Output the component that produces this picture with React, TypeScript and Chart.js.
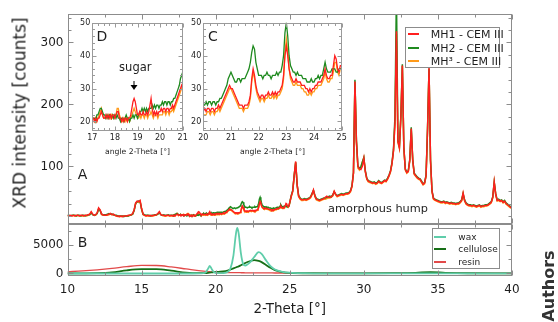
import React, { useEffect, useRef } from "react";
import { Chart, registerables } from "chart.js";

Chart.register(...registerables);

const FONT = "'DejaVu Sans', Verdana, sans-serif";
const TEXT = "#1e1e1e";
const FRAME = "#8c8c8c";

const C_MH1 = "#ff1f1f";
const C_MH2 = "#1f8a1f";
const C_MH3 = "#ff9a1a";
const C_WAX = "#5fcdaa";
const C_CELL = "#176f17";
const C_RESIN = "#e24a4a";

const NAMES_A = ["MH1 - CEM III", "MH2 - CEM III", "MH\u00b3 - CEM III"];
const NAMES_B = ["wax", "cellulose", "resin"];

// tick labels
const TICKS_X = [10, 15, 20, 25, 30, 35, 40];
const TICKS_A = [100, 200, 300];
const TICKS_B = [0, 5000];
const TICKS_INSET_Y = [20, 30, 40, 50];
const TICKS_D_X = [17, 18, 19, 20, 21];
const TICKS_C_X = [20, 21, 22, 23, 24, 25];

// ---- Panel A: XRD patterns ----
// segment 1: 2-Theta 10.0 ... 17.0, step 0.1
const SEG1_START = 10.0;
const SEG1_STEP = 0.1;
const MH1_SEG1 = [
  21, 20, 21, 20, 21, 20, 21, 21, 20, 21,
  21, 20, 21, 21, 22, 23, 27, 23, 21, 22,
  25, 33, 30, 23, 22, 21, 21, 22, 23, 24,
  22, 23, 21, 20, 20, 19, 20, 19, 20, 20,
  20, 21, 21, 22, 24, 30, 41, 44, 43, 45,
  32, 23, 21, 20, 21, 20, 21, 20, 21, 21,
  22, 24, 27, 22, 21, 21, 20, 21, 21, 20,
  21,
];
const MH2_SEG1 = [
  21, 21, 20, 21, 21, 21, 20, 21, 21, 20,
  21, 21, 20, 21, 22, 22, 25, 22, 21, 22,
  24, 31, 29, 23, 22, 22, 22, 23, 24, 23,
  23, 22, 21, 21, 20, 20, 20, 20, 19, 20,
  20, 20, 21, 22, 23, 29, 40, 43, 44, 43,
  31, 23, 22, 21, 21, 21, 20, 21, 21, 22,
  22, 23, 25, 22, 21, 22, 21, 21, 22, 21,
  21,
];
const MH3_SEG1 = [
  20, 20, 20, 20, 21, 20, 20, 21, 20, 20,
  20, 20, 21, 20, 21, 22, 26, 22, 21, 21,
  24, 32, 29, 22, 21, 21, 21, 21, 22, 23,
  22, 22, 21, 20, 19, 19, 19, 19, 20, 20,
  20, 20, 21, 21, 23, 29, 40, 43, 42, 44,
  31, 22, 21, 20, 20, 20, 20, 20, 20, 21,
  21, 23, 26, 22, 21, 20, 20, 20, 21, 20,
  20,
];

// segment 2: 2-Theta 17.05 ... 25.00, step 0.05 (detail shown in insets D and C)
const SEG2_START = 17.05;
const SEG2_STEP = 0.05;
const MH1_SEG2 = [
  21, 20, 21, 20, 21, 21, 22, 23, 22, 21,
  21, 22, 21, 22, 21, 22, 21, 22, 22, 21,
  22, 23, 23, 21, 21, 20, 21, 20, 21, 21,
  20, 21, 21, 22, 24, 26, 27, 26, 24, 22,
  22, 23, 22, 22, 23, 22, 22, 23, 22, 23,
  25, 27, 24, 22, 23, 22, 23, 22, 23, 23,
  24, 23, 24, 24, 23, 24, 24, 23, 24, 24,
  25, 24, 25, 26, 27, 28, 29, 30, 31, 30,
  30, 29, 28, 27, 26, 25, 25, 25, 24, 25,
  25, 25, 26, 28, 33, 36, 34, 31, 29, 28,
  27, 28, 28, 27, 28, 28, 29, 28, 28, 29,
  28, 29, 28, 29, 29, 30, 31, 34, 40, 43,
  40, 36, 34, 33, 32, 32, 33, 32, 32, 32,
  31, 31, 31, 30, 30, 29, 30, 29, 30, 30,
  31, 31, 32, 32, 32, 33, 34, 36, 34, 33,
  33, 34, 34, 37, 40, 39, 36, 35, 37, 37,
];
const MH2_SEG2 = [
  21, 21, 20, 22, 22, 23, 24, 24, 23, 22,
  22, 21, 22, 21, 22, 22, 21, 22, 21, 22,
  21, 22, 21, 21, 20, 21, 21, 20, 21, 22,
  21, 21, 20, 21, 21, 22, 21, 22, 22, 21,
  22, 23, 23, 24, 23, 24, 23, 24, 23, 24,
  24, 24, 25, 24, 25, 24, 25, 25, 24, 25,
  25, 26, 25, 26, 26, 25, 26, 26, 25, 26,
  26, 27, 27, 28, 29, 30, 31, 33, 34, 35,
  34, 33, 32, 32, 33, 33, 32, 33, 33, 33,
  34, 35, 36, 38, 41, 43, 42, 38, 36, 34,
  34, 34, 33, 34, 34, 35, 34, 34, 33, 34,
  34, 34, 35, 34, 35, 35, 37, 40, 47, 50,
  46, 40, 37, 36, 35, 35, 34, 35, 34, 34,
  34, 33, 33, 33, 32, 32, 32, 33, 32, 32,
  33, 33, 34, 33, 34, 34, 36, 38, 36, 35,
  35, 35, 36, 36, 36, 35, 35, 36, 36, 36,
];
const MH3_SEG2 = [
  20, 20, 21, 20, 21, 22, 23, 24, 22, 21,
  21, 21, 22, 21, 22, 21, 22, 21, 21, 22,
  22, 24, 24, 22, 21, 20, 20, 21, 20, 21,
  20, 21, 20, 21, 22, 23, 24, 23, 22, 21,
  21, 22, 21, 22, 22, 21, 22, 22, 21, 22,
  22, 23, 22, 21, 22, 22, 22, 21, 22, 22,
  22, 22, 23, 23, 22, 23, 23, 22, 23, 23,
  24, 23, 24, 25, 26, 27, 28, 29, 30, 30,
  29, 28, 27, 26, 25, 24, 24, 24, 23, 24,
  24, 24, 25, 27, 32, 35, 33, 30, 28, 27,
  26, 27, 27, 26, 27, 27, 28, 27, 27, 28,
  27, 28, 27, 28, 28, 29, 30, 33, 41, 45,
  41, 36, 33, 32, 31, 31, 32, 31, 31, 31,
  30, 30, 29, 29, 28, 28, 29, 28, 29, 29,
  30, 30, 31, 31, 31, 32, 33, 35, 33, 32,
  32, 33, 33, 35, 38, 38, 35, 34, 36, 36,
];

// segment 3: 2-Theta 25.1 ... 40.0, step 0.1
const SEG3_START = 25.1;
const SEG3_STEP = 0.1;
const MH1_SEG3 = [
  52, 60, 85, 108, 70, 52, 48, 46, 46, 47,
  46, 47, 48, 50, 55, 62, 52, 47, 46, 45,
  46, 47, 48, 50, 52, 50, 50, 51, 53, 60,
  55, 52, 53, 54, 55, 54, 55, 56, 56, 57,
  60, 68, 90, 237, 140, 100, 96, 95, 100, 113,
  92, 80, 76, 75, 74, 73, 74, 72, 73, 76,
  74, 73, 75, 77, 76, 80, 85, 92, 105, 125,
  170, 318, 140, 130, 180, 263, 130, 95, 90, 92,
  110, 161, 110, 88, 85, 82, 80, 79, 75, 71,
  73, 85, 160, 259, 110, 60, 48, 46, 45, 44,
  43, 42, 42, 43, 41, 42, 41, 40, 41, 40,
  40, 39, 40, 40, 42, 45, 57, 45, 40, 38,
  37, 37, 36, 37, 36, 35, 36, 37, 35, 36,
  36, 37, 37, 38, 40, 42, 50, 75, 55, 45,
  46, 44, 45, 42, 44, 40, 38, 36, 34, 33,
];
const MH2_SEG3 = [
  53, 61, 86, 106, 70, 53, 49, 47, 47, 48,
  47, 48, 49, 51, 56, 61, 53, 48, 47, 46,
  47, 48, 49, 49, 50, 51, 52, 51, 54, 59,
  55, 53, 54, 55, 56, 55, 56, 57, 57, 58,
  61, 69, 90, 240, 142, 101, 97, 99, 107, 114,
  93, 81, 77, 76, 75, 74, 75, 73, 74, 77,
  75, 74, 76, 78, 77, 81, 86, 93, 106, 127,
  180, 380, 142, 132, 182, 265, 131, 96, 91, 93,
  111, 163, 111, 89, 86, 83, 81, 80, 76, 72,
  74, 86, 161, 258, 111, 61, 49, 47, 46, 45,
  44, 43, 43, 44, 42, 43, 42, 41, 42, 41,
  41, 40, 41, 41, 43, 46, 56, 46, 41, 39,
  38, 38, 37, 38, 37, 36, 37, 38, 36, 37,
  37, 38, 38, 39, 41, 43, 51, 74, 56, 46,
  47, 45, 46, 43, 45, 41, 39, 37, 35, 34,
];
const MH3_SEG3 = [
  51, 59, 84, 107, 69, 51, 47, 45, 45, 46,
  45, 46, 47, 49, 54, 61, 51, 46, 45, 44,
  45, 46, 47, 47, 48, 49, 49, 50, 52, 59,
  54, 51, 52, 53, 54, 53, 54, 55, 55, 56,
  59, 67, 89, 236, 139, 97, 94, 99, 107, 114,
  91, 79, 75, 74, 73, 72, 73, 71, 72, 75,
  73, 72, 74, 76, 75, 79, 84, 91, 104, 124,
  169, 314, 139, 129, 179, 262, 129, 94, 89, 91,
  109, 160, 109, 87, 84, 81, 79, 78, 74, 70,
  72, 84, 159, 257, 109, 59, 47, 45, 44, 43,
  42, 41, 41, 42, 40, 41, 40, 39, 40, 39,
  39, 38, 39, 39, 41, 44, 56, 44, 39, 37,
  36, 36, 35, 36, 35, 34, 35, 36, 34, 35,
  35, 36, 36, 37, 39, 41, 49, 74, 54, 44,
  45, 43, 44, 41, 43, 39, 37, 35, 33, 32,
];

// ---- Panel B: reference components ----
const B_THETA = [
  10, 11, 12, 13, 14, 15, 16, 17, 18, 19,
  19.3, 19.5, 19.6, 19.75, 19.9, 20.2, 20.5, 20.8, 21, 21.2,
  21.35, 21.45, 21.55, 21.7, 21.85, 22, 22.3, 22.6, 22.9, 23.1,
  23.4, 23.7, 24, 24.5, 25, 26, 28, 30, 32, 33.5,
  34.5, 35.5, 37, 40,
];
const WAX = [
  0, 0, 0, 0, 0, 0, 0, 0, 0, 30,
  150, 900, 1350, 700, 200, 60, 80, 250, 900, 3200,
  6600, 8000, 7100, 3600, 1700, 1400, 1900, 2900, 3750, 3450,
  2300, 1300, 700, 300, 150, 60, 20, 10, 10, 10,
  10, 10, 10, 10,
];
const CELLULOSE = [
  20, 30, 60, 200, 550, 750, 760, 500, 150, 60,
  80, 120, 150, 200, 250, 300, 350, 500, 700, 900,
  1050, 1150, 1250, 1450, 1650, 1850, 2150, 2350, 2200, 2000,
  1500, 1000, 600, 250, 100, 40, 30, 30, 50, 120,
  250, 120, 40, 30,
];
const RESIN = [
  300, 450, 650, 900, 1200, 1420, 1400, 1150, 800, 450,
  380, 330, 310, 280, 260, 220, 190, 170, 160, 150,
  145, 140, 138, 135, 130, 125, 120, 115, 110, 105,
  100, 95, 90, 85, 80, 75, 70, 65, 60, 60,
  60, 55, 55, 50,
];

function toPoints(start: number, step: number, ys: number[]) {
  return ys.map((y, i) => ({ x: Math.round((start + i * step) * 1000) / 1000, y }));
}
function joinSegs(a: number[], b: number[], c: number[]) {
  return [
    ...toPoints(SEG1_START, SEG1_STEP, a),
    ...toPoints(SEG2_START, SEG2_STEP, b),
    ...toPoints(SEG3_START, SEG3_STEP, c),
  ];
}
function pairs(xs: number[], ys: number[]) {
  return xs.map((x, i) => ({ x, y: ys[i] }));
}

const MH1 = joinSegs(MH1_SEG1, MH1_SEG2, MH1_SEG3);
const MH2 = joinSegs(MH2_SEG1, MH2_SEG2, MH2_SEG3);
const MH3 = joinSegs(MH3_SEG1, MH3_SEG2, MH3_SEG3);

function forTicks(min: number, max: number, step: number, major: number, cb: (v: number, m: boolean) => void) {
  const k0 = Math.ceil(min / step - 1e-9);
  const k1 = Math.floor(max / step + 1e-9);
  for (let k = k0; k <= k1; k++) {
    const v = k * step;
    const r = v / major;
    cb(v, Math.abs(r - Math.round(r)) < 1e-6);
  }
}

const frameTicks = {
  id: "frameTicks",
  afterDraw(chart: any, _a: any, o: any) {
    if (!o || !o.x) return;
    const ctx = chart.ctx;
    const xs = chart.scales[o.x.id];
    ctx.save();
    ctx.strokeStyle = o.color;
    ctx.lineWidth = 1;
    const seg = (x1: number, y1: number, x2: number, y2: number) => {
      ctx.beginPath();
      ctx.moveTo(x1, y1);
      ctx.lineTo(x2, y2);
      ctx.stroke();
    };
    const L = Math.round(xs.left) + 0.5;
    const R = Math.round(xs.right) - 0.5;
    for (const yo of o.y) {
      const ys = chart.scales[yo.id];
      const T = Math.round(ys.top) + 0.5;
      const B = Math.round(ys.bottom) - 0.5;
      ctx.strokeRect(L, T, R - L, B - T);
      forTicks(xs.min, xs.max, o.x.minor, o.x.major, (v, maj) => {
        const p = Math.round(xs.getPixelForValue(v)) + 0.5;
        const len = maj ? o.majorLen : o.minorLen;
        seg(p, T, p, T + len);
        seg(p, B, p, B - len);
      });
      forTicks(ys.min, ys.max, yo.minor, yo.major, (v, maj) => {
        const p = Math.round(ys.getPixelForValue(v)) + 0.5;
        const len = maj ? o.majorLen : o.minorLen;
        seg(L, p, L + len, p);
        seg(R, p, R - len, p);
      });
    }
    ctx.restore();
  },
};

function lineDs(label: string, data: any[], color: string, axis: string, width: number, smooth = false) {
  return {
    label,
    data,
    borderColor: color,
    backgroundColor: color,
    borderWidth: width,
    pointRadius: 0,
    fill: false,
    tension: 0,
    cubicInterpolationMode: smooth ? "monotone" : "default",
    yAxisID: axis,
    xAxisID: "x",
  };
}

const noGrid = { display: false, drawTicks: false };
const noBorder = { display: false };
const fixedTicks = (vals: number[]) => (s: any) => {
  s.ticks = vals.map((v) => ({ value: v }));
};

function mainConfig(): any {
  return {
    type: "line",
    data: {
      datasets: [
        lineDs(NAMES_A[0], MH1, C_MH1, "yA", 1.5),
        lineDs(NAMES_A[1], MH2, C_MH2, "yA", 1.5),
        lineDs(NAMES_A[2], MH3, C_MH3, "yA", 1.5),
        lineDs(NAMES_B[0], pairs(B_THETA, WAX), C_WAX, "yB", 1.8, true),
        lineDs(NAMES_B[1], pairs(B_THETA, CELLULOSE), C_CELL, "yB", 1.8, true),
        lineDs(NAMES_B[2], pairs(B_THETA, RESIN), C_RESIN, "yB", 1.3, true),
      ],
    },
    options: {
      responsive: false,
      animation: false,
      events: [],
      layout: { padding: { left: 0, right: 46, top: 14, bottom: 0 } },
      plugins: {
        legend: { display: false },
        tooltip: { enabled: false },
        frameTicks: {
          color: FRAME,
          majorLen: 5,
          minorLen: 3,
          x: { id: "x", minor: 2.5, major: 5 },
          y: [
            { id: "yA", minor: 20, major: 100 },
            { id: "yB", minor: 2500, major: 5000 },
          ],
        },
      },
      scales: {
        x: {
          type: "linear",
          position: "bottom",
          min: 10,
          max: 40,
          grid: noGrid,
          border: noBorder,
          afterBuildTicks: fixedTicks(TICKS_X),
          ticks: {
            autoSkip: false,
            maxRotation: 0,
            padding: 7,
            color: TEXT,
            font: { family: FONT, size: 12 },
            callback: (v: any) => String(v),
          },
          title: {
            display: true,
            text: "2-Theta [\u00b0]",
            color: TEXT,
            font: { family: FONT, size: 13.5 },
            padding: { top: 0, bottom: 4 },
          },
          afterFit: (s: any) => {
            s.height = 46;
          },
        },
        yA: {
          type: "linear",
          position: "left",
          stack: "panels",
          stackWeight: 210,
          weight: 2,
          min: 7,
          max: 346,
          grid: noGrid,
          border: noBorder,
          afterBuildTicks: fixedTicks(TICKS_A),
          ticks: {
            autoSkip: false,
            padding: 4,
            color: TEXT,
            font: { family: FONT, size: 12 },
            callback: (v: any) => String(v),
          },
          afterFit: (s: any) => {
            s.width = 67.5;
          },
        },
        yB: {
          type: "linear",
          position: "left",
          stack: "panels",
          stackWeight: 52,
          weight: 1,
          min: -440,
          max: 8690,
          grid: noGrid,
          border: noBorder,
          afterBuildTicks: fixedTicks(TICKS_B),
          ticks: {
            autoSkip: false,
            padding: 4,
            color: TEXT,
            font: { family: FONT, size: 12 },
            callback: (v: any) => String(v),
          },
          afterFit: (s: any) => {
            s.width = 67.5;
          },
        },
      },
    },
    plugins: [frameTicks],
  };
}

function insetConfig(xmin: number, xmax: number, xticks: number[], yWidth: number, padRight: number): any {
  return {
    type: "line",
    data: {
      datasets: [
        lineDs(NAMES_A[0], MH1, C_MH1, "y", 1.3),
        lineDs(NAMES_A[1], MH2, C_MH2, "y", 1.3),
        lineDs(NAMES_A[2], MH3, C_MH3, "y", 1.3),
      ],
    },
    options: {
      responsive: false,
      animation: false,
      events: [],
      layout: { padding: { left: 0, right: padRight, top: 5.7, bottom: 0 } },
      plugins: {
        legend: { display: false },
        tooltip: { enabled: false },
        frameTicks: {
          color: "#9a9a9a",
          majorLen: 4,
          minorLen: 2.5,
          x: { id: "x", minor: 0.25, major: 1 },
          y: [{ id: "y", minor: 2, major: 10 }],
        },
      },
      scales: {
        x: {
          type: "linear",
          min: xmin,
          max: xmax,
          grid: noGrid,
          border: noBorder,
          afterBuildTicks: fixedTicks(xticks),
          ticks: {
            autoSkip: false,
            maxRotation: 0,
            padding: 2.2,
            color: TEXT,
            font: { family: FONT, size: 8 },
            callback: (v: any) => String(v),
          },
          title: {
            display: true,
            text: "angle 2-Theta [\u00b0]",
            color: TEXT,
            font: { family: FONT, size: 7.7 },
            padding: { top: 0, bottom: 4.5 },
          },
          afterFit: (s: any) => {
            s.height = 30.3;
          },
        },
        y: {
          type: "linear",
          position: "left",
          min: 17.2,
          max: 50,
          grid: noGrid,
          border: noBorder,
          afterBuildTicks: fixedTicks(TICKS_INSET_Y),
          ticks: {
            autoSkip: false,
            padding: 2,
            color: TEXT,
            font: { family: FONT, size: 8 },
            callback: (v: any) => String(v),
          },
          afterFit: (s: any) => {
            s.width = yWidth;
          },
        },
      },
    },
    plugins: [frameTicks],
  };
}

function ChartCanvas(props: { left: number; top: number; width: number; height: number; make: () => any }) {
  const ref = useRef<HTMLCanvasElement | null>(null);
  useEffect(() => {
    if (!ref.current) return;
    const c = new Chart(ref.current, props.make());
    return () => c.destroy();
  }, []);
  return (
    <canvas
      ref={ref}
      width={props.width}
      height={props.height}
      style={{
        position: "absolute",
        left: props.left,
        top: props.top,
        width: props.width,
        height: props.height,
      }}
    />
  );
}

function Label(props: { x: number; y: number; size: number; text: string; bold?: boolean; rotate?: boolean; color?: string }) {
  return (
    <div
      style={{
        position: "absolute",
        left: props.x,
        top: props.y,
        transform: `translate(-50%, -50%)${props.rotate ? " rotate(-90deg)" : ""}`,
        fontSize: props.size,
        lineHeight: 1,
        whiteSpace: "nowrap",
        fontWeight: props.bold ? "bold" : "normal",
        color: props.color || TEXT,
        fontFamily: FONT,
      }}
    >
      {props.text}
    </div>
  );
}

function LegendBox(props: {
  left: number;
  top: number;
  width: number;
  height: number;
  fontSize: number;
  lineX: number;
  lineW: number;
  textX: number;
  rows: { y: number; color: string; label: string }[];
}) {
  return (
    <div
      style={{
        position: "absolute",
        left: props.left,
        top: props.top,
        width: props.width,
        height: props.height,
        boxSizing: "border-box",
        border: `1px solid ${FRAME}`,
        background: "#fff",
        fontFamily: FONT,
      }}
    >
      {props.rows.map((r, i) => (
        <React.Fragment key={i}>
          <div
            style={{
              position: "absolute",
              left: props.lineX,
              top: r.y - 1,
              width: props.lineW,
              height: 2,
              background: r.color,
            }}
          />
          <div
            style={{
              position: "absolute",
              left: props.textX,
              top: r.y,
              transform: "translateY(-50%)",
              fontSize: props.fontSize,
              lineHeight: 1,
              whiteSpace: "nowrap",
              color: TEXT,
            }}
          >
            {r.label}
          </div>
        </React.Fragment>
      ))}
    </div>
  );
}

export default function App() {
  return (
    <div
      style={{
        position: "absolute",
        left: 0,
        top: 0,
        width: 558,
        height: 322,
        overflow: "hidden",
        background: "#fff",
        fontFamily: FONT,
      }}
    >
      <ChartCanvas left={0} top={0} width={558} height={322} make={mainConfig} />
      <ChartCanvas left={74} top={16} width={116} height={145} make={() => insetConfig(17, 21, TICKS_D_X, 18.3, 6.7)} />
      <ChartCanvas left={190} top={16} width={160} height={145} make={() => insetConfig(20, 25, TICKS_C_X, 13.3, 8.3)} />

      <Label x={20} y={113} size={17} text="XRD intensity [counts]" rotate />
      <Label x={82.5} y={173.5} size={14} text="A" />
      <Label x={82.5} y={241.7} size={14} text="B" />
      <Label x={102} y={36} size={14} text="D" />
      <Label x={213} y={36} size={14} text="C" />
      <Label x={135.3} y={67.5} size={11.5} text="sugar" />
      <svg
        width={12}
        height={12}
        style={{ position: "absolute", left: 128, top: 80 }}
      >
        <line x1={6} y1={1} x2={6} y2={6} stroke="#000" strokeWidth={1} />
        <polygon points="2.5,5 9.5,5 6,10" fill="#000" />
      </svg>
      <Label x={378} y={208.5} size={11.3} text="amorphous hump" />
      <Label x={549} y={285.5} size={16} text="Authors" bold rotate color="#333" />

      <LegendBox
        left={405}
        top={27}
        width={95}
        height={41}
        fontSize={11}
        lineX={2.3}
        lineW={11}
        textX={24.7}
        rows={[
          { y: 6.3, color: C_MH1, label: NAMES_A[0] },
          { y: 19.7, color: C_MH2, label: NAMES_A[1] },
          { y: 33, color: C_MH3, label: NAMES_A[2] },
        ]}
      />
      <LegendBox
        left={432}
        top={228}
        width={68}
        height={41}
        fontSize={9}
        lineX={1}
        lineW={12}
        textX={25.3}
        rows={[
          { y: 8.3, color: C_WAX, label: NAMES_B[0] },
          { y: 20.3, color: C_CELL, label: NAMES_B[1] },
          { y: 32.7, color: C_RESIN, label: NAMES_B[2] },
        ]}
      />
    </div>
  );
}
